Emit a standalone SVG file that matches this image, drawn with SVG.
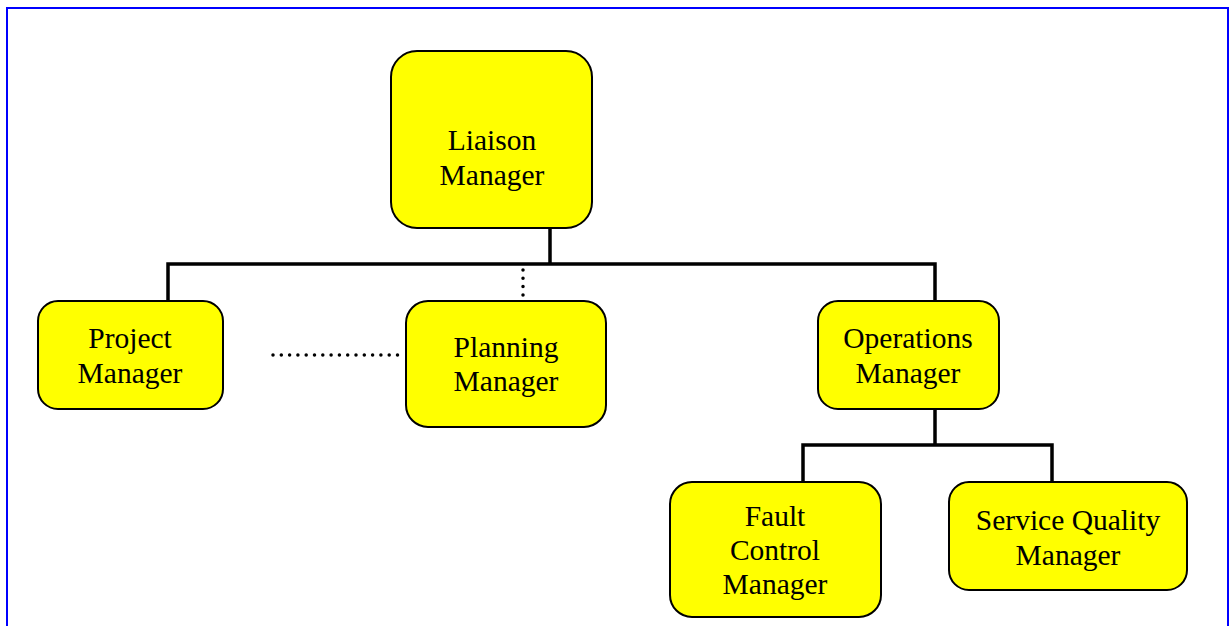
<svg xmlns="http://www.w3.org/2000/svg" width="1230" height="626" viewBox="0 0 1230 626">
<style>
.node rect{fill:#ffff00;stroke:#000;stroke-width:2}
.node text{font-family:"Liberation Serif","Times New Roman",serif;font-size:29.5px;fill:#000;text-anchor:middle}
.conn{fill:none;stroke:#000;stroke-width:3.5}
.dot{fill:none;stroke:#000;stroke-width:3.5;stroke-linecap:round;stroke-dasharray:0 8.3}
</style>
<rect x="0" y="0" width="1230" height="626" fill="#fff"/>
<rect x="7" y="8" width="1221" height="700" fill="none" stroke="#0000ff" stroke-width="2"/>
<g id="connectors">
<path class="conn" d="M550 228V264M168 301V264H935V301"/>
<path class="conn" d="M935 409V445M803 482V445H1052V482"/>
<path class="dot" d="M523 270V298"/>
<path class="dot" d="M273 355H405"/>
</g>
<g id="liaison" class="node">
<rect x="391" y="51" width="201" height="177" rx="26"/>
<text x="492" y="150">Liaison</text>
<text x="492" y="185">Manager</text>
</g>
<g id="project" class="node">
<rect x="38" y="301" width="185" height="108" rx="20"/>
<text x="130" y="348">Project</text>
<text x="130" y="383">Manager</text>
</g>
<g id="planning" class="node">
<rect x="406" y="301" width="200" height="126" rx="22"/>
<text x="506" y="357">Planning</text>
<text x="506" y="391">Manager</text>
</g>
<g id="operations" class="node">
<rect x="818" y="301" width="181" height="108" rx="20"/>
<text x="908" y="348">Operations</text>
<text x="908" y="383">Manager</text>
</g>
<g id="fault" class="node">
<rect x="670" y="482" width="211" height="135" rx="22"/>
<text x="775" y="526">Fault</text>
<text x="775" y="560">Control</text>
<text x="775" y="594">Manager</text>
</g>
<g id="service" class="node">
<rect x="949" y="482" width="238" height="108" rx="20"/>
<text x="1068" y="530">Service Quality</text>
<text x="1068" y="565">Manager</text>
</g>
</svg>
